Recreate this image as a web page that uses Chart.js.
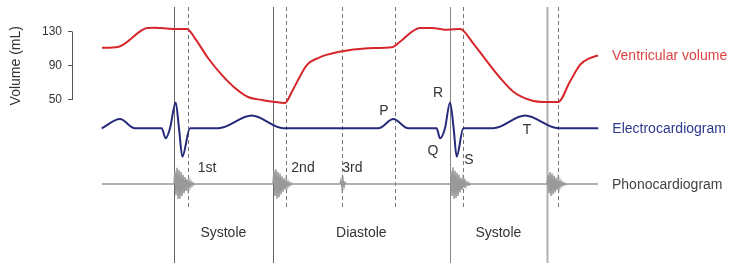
<!DOCTYPE html>
<html>
<head>
    <style>
        body {
            margin: 0;
            padding: 0;
            background-color: #fff;
        }
        #chartContainer {
            position: relative;
            width: 734px;
            height: 268px;
        }
    </style>
</head>
<body>
    <div id="chartContainer">
        <canvas id="wiggersChart"></canvas>
    </div>

    <script src="https://cdn.jsdelivr.net/npm/chart.js"></script>

    <script>
// time axis is in ms
const volumeTimes = [90, 138, 225, 249, 303, 345, 369, 408, 450, 489, 528, 570, 603, 639, 660, 705, 738, 798, 888, 963, 984, 1044, 1080, 1128, 1164, 1203, 1245, 1284, 1323, 1374, 1425, 1458, 1494, 1524, 1554, 1578];
const volumeMl = [111, 112, 134, 134.5, 133, 133, 122, 99, 79, 64, 53.5, 50, 48, 46.5, 60, 91, 99, 106, 110.5, 112, 118, 134, 134, 132, 133, 116.5, 95, 76, 60, 50, 47.5, 47.5, 71.5, 91, 99, 102];
const volumeTicks = [50, 90, 130];

const ecgTimes = [89, 144, 189, 269, 281, 294, 311, 321, 331, 354, 439, 539, 634, 919, 964, 1009, 1094, 1104, 1119, 1134, 1145, 1154, 1174, 1264, 1359, 1459, 1579];
const ecgMv = [0, 0.34, 0, 0, -0.37, 0, 0.96, 0, -1.05, 0, 0, 0.47, 0, 0, 0.34, 0, 0, -0.37, 0, 0.96, 0, -1.05, 0, 0, 0.47, 0, 0];

const phonoTimes = [90,
    306, 309, 312, 315, 318, 321, 324, 327, 330, 333, 336, 339, 342, 345, 348, 351, 354, 357, 360, 363, 366, 369,
    603, 606, 609, 612, 615, 618, 621, 624, 627, 630, 633, 636, 639, 642, 645, 648, 651, 654, 657, 660, 663, 666,
    804, 807, 810, 813, 816, 819, 822,
    1134, 1137, 1140, 1143, 1146, 1149, 1152, 1155, 1158, 1161, 1164, 1167, 1170, 1173, 1176, 1179, 1182, 1185, 1188, 1191, 1194, 1197,
    1425, 1428, 1431, 1434, 1437, 1440, 1443, 1446, 1449, 1452, 1455, 1458, 1461, 1464, 1467, 1470, 1473, 1476, 1479, 1482, 1485, 1488,
    1578];
const phonoAmp = [0,
    0, 0.9, -0.8, 1.15, -1.05, 1.0, -1.05, 0.85, -0.85, 0.65, -0.65, 0.5, -0.5, 0.35, -0.35, 0.25, -0.22, 0.15, -0.12, 0.08, -0.05, 0,
    0, 0.95, -0.85, 1.05, -1.05, 0.85, -0.95, 0.75, -0.75, 0.55, -0.55, 0.4, -0.38, 0.28, -0.22, 0.17, -0.13, 0.09, -0.06, 0.04, -0.02, 0,
    0, 0.28, -0.32, 0.32, -0.22, 0.1, 0,
    0, 0.95, -0.85, 1.2, -1.05, 0.95, -1.0, 0.8, -0.85, 0.65, -0.6, 0.45, -0.42, 0.32, -0.27, 0.2, -0.16, 0.11, -0.08, 0.05, -0.03, 0,
    0, 0.65, -0.65, 0.85, -0.85, 0.75, -0.75, 0.6, -0.6, 0.45, -0.42, 0.32, -0.3, 0.22, -0.16, 0.13, -0.1, 0.07, -0.05, 0.03, -0.02, 0,
    0];

// event markers (ms)
const solidLineTimes = [306, 602, 1134, 1424];
const dashedLineTimes = [348, 642, 810, 969, 1173, 1458];

const waveLabels = ['P', 'R', 'Q', 'S', 'T'];
const waveLabelTimes = [936, 1098, 1083, 1191, 1365];
const waveLabelMv = [0.64, 1.31, -0.84, -1.17, -0.06];

const soundLabels = ['1st', '2nd', '3rd'];
const soundLabelTimes = [405, 693, 841];

const phaseLabels = ['Systole', 'Diastole', 'Systole'];

const traceNames = ['Ventricular volume', 'Electrocardiogram', 'Phonocardiogram'];

const FONT = "'Liberation Sans', Arial, sans-serif";
const traceColors = ['#d7262b', '#262a7a', '#999'];
const traceTextColors = ['#dc4444', '#2e3a8c', '#444'];
const solidLineColors = ['#666', '#666', '#888', '#b0b0b0'];
const solidLineWidths = [1, 1, 1, 2];

const toPoints = (xs, ys) => xs.map((x, i) => ({ x: x, y: ys[i] }));

const annotationPlugin = {
    id: 'wiggersAnnotations',
    beforeDatasetsDraw(chart) {
        const ctx = chart.ctx;
        const x = chart.scales.x;
        ctx.save();
        solidLineTimes.forEach((t, i) => {
            const px = Math.round(x.getPixelForValue(t)) + 0.5;
            ctx.strokeStyle = solidLineColors[i];
            ctx.lineWidth = solidLineWidths[i];
            ctx.setLineDash([]);
            ctx.beginPath();
            ctx.moveTo(px, 7);
            ctx.lineTo(px, 263);
            ctx.stroke();
        });
        ctx.strokeStyle = '#777';
        ctx.lineWidth = 1;
        ctx.setLineDash([4, 3]);
        dashedLineTimes.forEach(t => {
            const px = Math.round(x.getPixelForValue(t)) + 0.5;
            ctx.beginPath();
            ctx.moveTo(px, 7);
            ctx.lineTo(px, 210);
            ctx.stroke();
        });
        ctx.restore();
    },
    afterDatasetsDraw(chart) {
        const ctx = chart.ctx;
        const x = chart.scales.x;
        const yVol = chart.scales.y;
        const yEcg = chart.scales.yEcg;
        const yPh = chart.scales.yPhono;
        ctx.save();

        // volume axis bracket
        const axX = chart.chartArea.left + 0.5;
        ctx.strokeStyle = '#555';
        ctx.lineWidth = 1;
        ctx.beginPath();
        ctx.moveTo(axX, yVol.getPixelForValue(volumeTicks[0]));
        ctx.lineTo(axX, yVol.getPixelForValue(volumeTicks[volumeTicks.length - 1]));
        ctx.stroke();

        // axis title
        ctx.fillStyle = '#333';
        ctx.font = '14px ' + FONT;
        ctx.textAlign = 'center';
        ctx.textBaseline = 'middle';
        ctx.save();
        ctx.translate(16, yVol.getPixelForValue(90));
        ctx.rotate(-Math.PI / 2);
        ctx.fillText('Volume (mL)', 0, 0);
        ctx.restore();

        // wave labels on the ECG
        waveLabels.forEach((s, i) => {
            ctx.fillText(s, x.getPixelForValue(waveLabelTimes[i]), yEcg.getPixelForValue(waveLabelMv[i]));
        });

        // heart sound labels
        soundLabels.forEach((s, i) => {
            ctx.fillText(s, x.getPixelForValue(soundLabelTimes[i]), yPh.getPixelForValue(1.14));
        });

        // phase labels centred between the solid lines
        phaseLabels.forEach((s, i) => {
            const mid = (solidLineTimes[i] + solidLineTimes[i + 1]) / 2;
            ctx.fillText(s, x.getPixelForValue(mid), 233);
        });

        // trace names at the end of each trace
        ctx.textAlign = 'left';
        chart.data.datasets.forEach((ds, i) => {
            const meta = chart.getDatasetMeta(i);
            const last = meta.data[meta.data.length - 1];
            ctx.fillStyle = traceTextColors[i];
            ctx.fillText(traceNames[i], last.x + 14, last.y + 1);
        });

        ctx.restore();
    }
};

const ctx = document.getElementById('wiggersChart').getContext('2d');
new Chart(ctx, {
    type: 'line',
    data: {
        datasets: [{
            label: traceNames[0],
            data: toPoints(volumeTimes, volumeMl),
            yAxisID: 'y',
            borderColor: traceColors[0],
            borderWidth: 2,
            pointRadius: 0,
            cubicInterpolationMode: 'monotone'
        }, {
            label: traceNames[1],
            data: toPoints(ecgTimes, ecgMv),
            yAxisID: 'yEcg',
            borderColor: traceColors[1],
            borderWidth: 2,
            pointRadius: 0,
            cubicInterpolationMode: 'monotone'
        }, {
            label: traceNames[2],
            data: toPoints(phonoTimes, phonoAmp),
            yAxisID: 'yPhono',
            borderColor: traceColors[2],
            borderWidth: 1.5,
            pointRadius: 0,
            tension: 0
        }]
    },
    options: {
        responsive: true,
        maintainAspectRatio: false,
        animation: false,
        layout: { padding: 0 },
        plugins: {
            legend: { display: false },
            tooltip: { enabled: false }
        },
        scales: {
            x: { type: 'linear', min: 0, max: 1986, display: false },
            y: {
                position: 'left',
                min: -146.3,
                max: 166.8,
                afterBuildTicks: scale => {
                    scale.ticks = volumeTicks.map(v => ({ value: v }));
                },
                afterFit: scale => {
                    scale.width = 72;
                    scale.paddingTop = 0;
                    scale.paddingBottom = 0;
                },
                grid: { drawOnChartArea: false, drawTicks: true, tickLength: 4, color: '#555' },
                border: { display: false },
                ticks: { padding: 6, color: '#333', font: { size: 12, family: FONT } }
            },
            yEcg: { axis: 'y', min: -5.174, max: 4.752, display: false },
            yPhono: { axis: 'y', min: -6, max: 13.14, display: false }
        }
    },
    plugins: [annotationPlugin]
});
    </script>
</body>
</html>
